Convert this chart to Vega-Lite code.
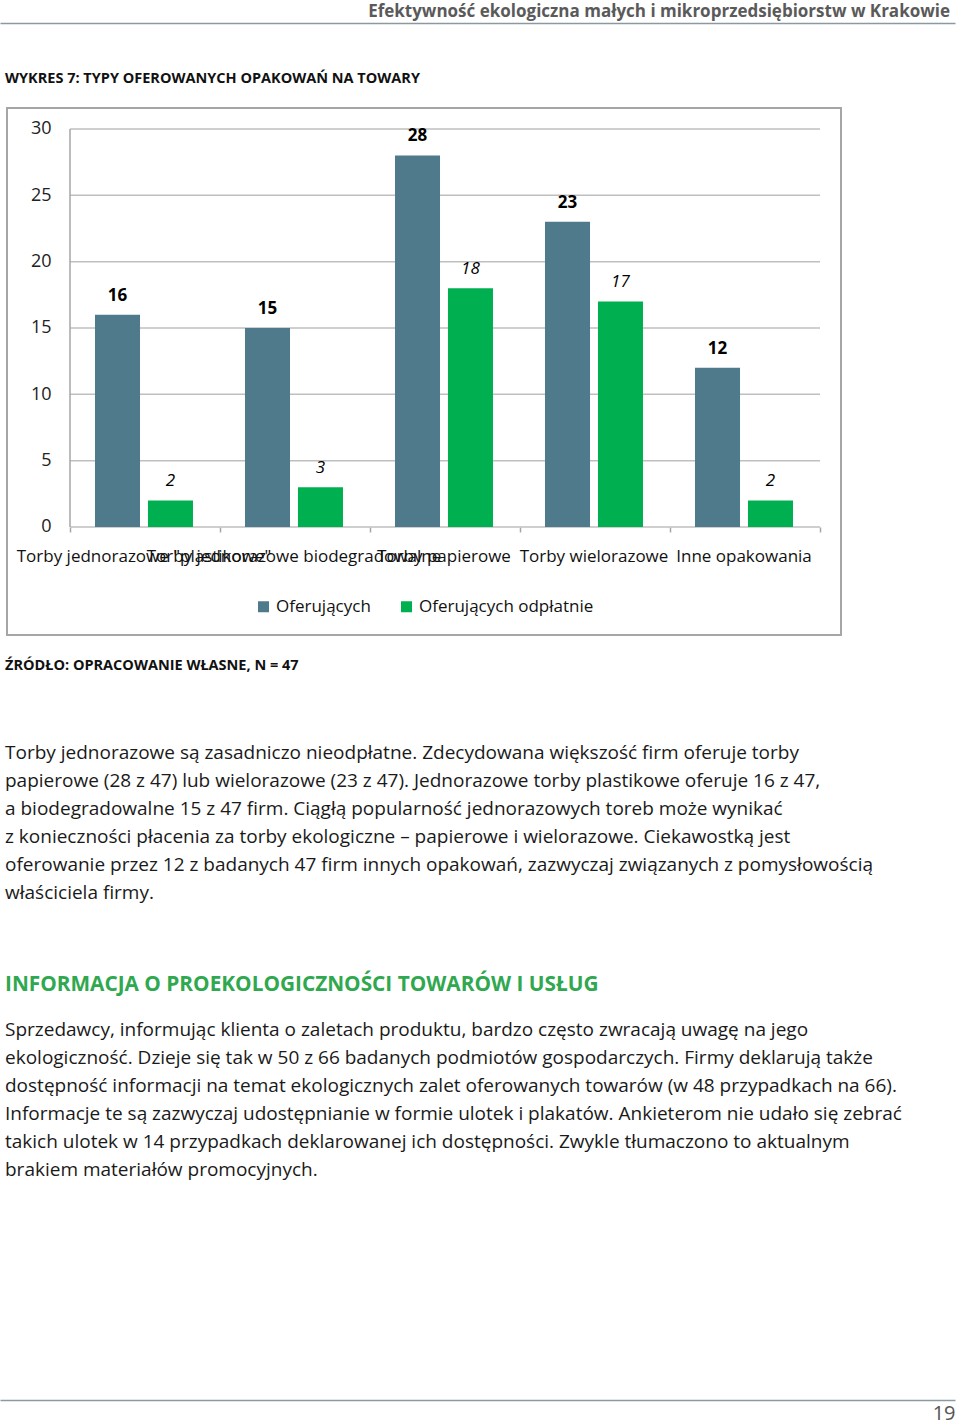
{
  "$schema": "https://vega.github.io/schema/vega-lite/v6.json",
  "background": "white",
  "padding": {"left": 4, "top": 0, "right": 6, "bottom": 4},
  "spacing": 85,
  "bounds": "flush",
  "config": {
    "view": {"stroke": null},
    "font": "Open Sans",
    "text": {"font": "Open Sans"},
    "axis": {"labelFont": "Open Sans", "titleFont": "Open Sans"},
    "legend": {"labelFont": "Open Sans"},
    "title": {"font": "Open Sans"}
  },
  "datasets": {
    "slupki": [
      {"kategoria": "Torby jednorazowe \"plastikowe\"", "seria": "Oferujących", "liczba": 16},
      {"kategoria": "Torby jednorazowe \"plastikowe\"", "seria": "Oferujących odpłatnie", "liczba": 2},
      {"kategoria": "Torby jednorazowe biodegradowalne", "seria": "Oferujących", "liczba": 15},
      {"kategoria": "Torby jednorazowe biodegradowalne", "seria": "Oferujących odpłatnie", "liczba": 3},
      {"kategoria": "Torby papierowe", "seria": "Oferujących", "liczba": 28},
      {"kategoria": "Torby papierowe", "seria": "Oferujących odpłatnie", "liczba": 18},
      {"kategoria": "Torby wielorazowe", "seria": "Oferujących", "liczba": 23},
      {"kategoria": "Torby wielorazowe", "seria": "Oferujących odpłatnie", "liczba": 17},
      {"kategoria": "Inne opakowania", "seria": "Oferujących", "liczba": 12},
      {"kategoria": "Inne opakowania", "seria": "Oferujących odpłatnie", "liczba": 2}
    ],
    "siatka": [
      {"wartosc": 0}, {"wartosc": 5}, {"wartosc": 10}, {"wartosc": 15},
      {"wartosc": 20}, {"wartosc": 25}, {"wartosc": 30}
    ],
    "naglowek": [
      {"side": "right", "tekst": "Efektywność ekologiczna małych i mikroprzedsiębiorstw w Krakowie"}
    ],
    "akapit1": [
      {"side": "left", "linie": [
        "Torby jednorazowe są zasadniczo nieodpłatne. Zdecydowana większość firm oferuje torby",
        "papierowe (28 z 47) lub wielorazowe (23 z 47). Jednorazowe torby plastikowe oferuje 16 z 47,",
        "a biodegradowalne 15 z 47 firm. Ciągłą popularność jednorazowych toreb może wynikać",
        "z konieczności płacenia za torby ekologiczne – papierowe i wielorazowe. Ciekawostką jest",
        "oferowanie przez 12 z badanych 47 firm innych opakowań, zazwyczaj związanych z pomysłowością",
        "właściciela firmy."
      ]}
    ],
    "akapit2": [
      {"side": "left", "linie": [
        "Sprzedawcy, informując klienta o zaletach produktu, bardzo często zwracają uwagę na jego",
        "ekologiczność. Dzieje się tak w 50 z 66 badanych podmiotów gospodarczych. Firmy deklarują także",
        "dostępność informacji na temat ekologicznych zalet oferowanych towarów (w 48 przypadkach na 66).",
        "Informacje te są zazwyczaj udostępnianie w formie ulotek i plakatów. Ankieterom nie udało się zebrać",
        "takich ulotek w 14 przypadkach deklarowanej ich dostępności. Zwykle tłumaczono to aktualnym",
        "brakiem materiałów promocyjnych."
      ]}
    ]
  },
  "vconcat": [
    {
      "width": 948,
      "height": 23,
      "data": {"name": "naglowek"},
      "mark": {"type": "text", "align": "right", "baseline": "middle", "dx": -5, "fontSize": 17, "fontWeight": "bold", "color": "#5a5a5a"},
      "encoding": {
        "x": {"field": "side", "type": "nominal", "scale": {"type": "point", "padding": 0, "domain": ["left", "right"], "range": [-7, 948]},
              "axis": {"orient": "bottom", "domain": true, "domainColor": "#8a9aa2", "domainWidth": 1.5, "labels": false, "ticks": false, "grid": false, "title": null}},
        "text": {"field": "tekst", "type": "nominal"}
      }
    },
    {
      "width": 834,
      "height": 527,
      "view": {"stroke": "#a6a6a6", "strokeWidth": 2},
      "title": {"text": "WYKRES 7: TYPY OFEROWANYCH OPAKOWAŃ NA TOWARY", "anchor": "start", "frame": "group", "baseline": "bottom", "offset": 8, "dx": -2, "fontSize": 14.5, "fontWeight": "bold", "color": "#111111"},
      "resolve": {"scale": {"x": "independent"}, "axis": {"x": "independent"}},
      "layer": [
        {
          "data": {"name": "siatka"},
          "mark": {"type": "rule", "color": "#bfbfbf", "strokeWidth": 1.5},
          "encoding": {
            "y": {"field": "wartosc", "type": "quantitative",
                  "scale": {"domain": [-8.14, 31.58], "nice": false, "zero": false},
                  "axis": {"orient": "left", "offset": -44, "values": [0, 5, 10, 15, 20, 25, 30], "domain": false, "ticks": false, "tickSize": 0, "labelPadding": 0, "labelFontSize": 18, "labelColor": "#222222", "grid": false, "title": null}},
            "x": {"datum": 0, "type": "quantitative", "scale": {"domain": [-0.42, 5.14], "nice": false, "zero": false},
                  "axis": {"orient": "bottom", "offset": -108, "values": [0, 1, 2, 3, 4, 5], "domain": false, "labels": false, "ticks": true, "tickSize": 5, "tickColor": "#a6a6a6", "tickWidth": 1.5, "grid": false, "title": null}},
            "x2": {"datum": 5}
          }
        },
        {
          "data": {"name": "siatka"},
          "transform": [{"filter": "datum.wartosc == 0"}],
          "mark": {"type": "rule", "color": "#a6a6a6", "strokeWidth": 1.5},
          "encoding": {
            "y": {"field": "wartosc", "type": "quantitative",
                  "scale": {"domain": [-8.14, 31.58], "nice": false, "zero": false},
                  "axis": {"orient": "left", "offset": -44, "values": [0, 5, 10, 15, 20, 25, 30], "domain": false, "ticks": false, "tickSize": 0, "labelPadding": 0, "labelFontSize": 18, "labelColor": "#222222", "grid": false, "title": null}},
            "y2": {"datum": 30},
            "x": {"datum": 0, "type": "quantitative", "scale": {"domain": [-0.42, 5.14], "nice": false, "zero": false}, "axis": null}
          }
        },
        {
          "data": {"name": "slupki"},
          "encoding": {
            "x": {"field": "kategoria", "type": "nominal", "sort": null,
                  "scale": {"type": "band", "paddingInner": 0.3467, "paddingOuter": 0.4533, "align": 0.647},
                  "axis": {"orient": "bottom", "offset": -108, "domain": false, "ticks": false, "tickSize": 0, "labelPadding": 21, "labelFontSize": 17, "labelColor": "#111111", "labelAngle": 0, "labelLimit": 0, "labelOverlap": false, "grid": false, "title": null}},
            "xOffset": {"field": "seria", "type": "nominal", "sort": null, "scale": {"paddingInner": 0.15, "paddingOuter": 0}},
            "y": {"field": "liczba", "type": "quantitative",
                  "scale": {"domain": [-8.14, 31.58], "nice": false, "zero": false},
                  "axis": {"orient": "left", "offset": -44, "values": [0, 5, 10, 15, 20, 25, 30], "domain": false, "ticks": false, "tickSize": 0, "labelPadding": 0, "labelFontSize": 18, "labelColor": "#222222", "grid": false, "title": null}}
          },
          "layer": [
            {
              "mark": {"type": "bar"},
              "encoding": {
                "y2": {"datum": 0},
                "color": {"field": "seria", "type": "nominal", "sort": null,
                          "scale": {"domain": ["Oferujących", "Oferujących odpłatnie"], "range": ["#4f7a8b", "#00b050"]},
                          "legend": {"orient": "none", "legendX": 248, "legendY": 598, "direction": "horizontal", "title": null, "symbolType": "square", "symbolSize": 121, "symbolStrokeWidth": 0, "labelFontSize": 17, "labelColor": "#111111", "labelOffset": 4, "labelLimit": 0, "columnPadding": 27, "padding": 0}}
              }
            },
            {
              "transform": [{"filter": "datum.seria === 'Oferujących'"}],
              "mark": {"type": "text", "baseline": "bottom", "dy": -10, "fontSize": 17, "fontWeight": "bold", "color": "#000000"},
              "encoding": {"text": {"field": "liczba", "type": "quantitative"}}
            },
            {
              "transform": [{"filter": "datum.seria === 'Oferujących odpłatnie'"}],
              "mark": {"type": "text", "baseline": "bottom", "dy": -10, "fontSize": 17, "fontStyle": "italic", "color": "#000000"},
              "encoding": {"text": {"field": "liczba", "type": "quantitative"}}
            }
          ]
        }
      ]
    },
    {
      "spacing": 224,
      "bounds": "flush",
      "vconcat": [
        {
          "width": 948,
          "height": 66,
          "title": {"text": "ŹRÓDŁO: OPRACOWANIE WŁASNE, N = 47", "anchor": "start", "frame": "group", "baseline": "bottom", "offset": 33, "dx": -2, "fontSize": 14.5, "fontWeight": "bold", "color": "#111111"},
          "data": {"name": "akapit1"},
          "mark": {"type": "text", "align": "left", "baseline": "middle", "lineHeight": 28, "dx": 5, "fontSize": 19, "color": "#1a1a1a"},
          "encoding": {
            "x": {"field": "side", "type": "nominal", "scale": {"type": "point", "padding": 0, "domain": ["left", "right"], "range": [-7, 948]}, "axis": null},
            "text": {"field": "linie", "type": "nominal"}
          }
        },
        {
          "width": 948,
          "height": 40,
          "title": {"text": "INFORMACJA O PROEKOLOGICZNOŚCI TOWARÓW I USŁUG", "anchor": "start", "frame": "group", "baseline": "bottom", "offset": -6, "dx": -2, "fontSize": 20.8, "fontWeight": "bold", "color": "#2fa84f"},
          "data": {"name": "akapit2"},
          "mark": {"type": "text", "align": "left", "baseline": "middle", "lineHeight": 28, "dx": 5, "fontSize": 19, "color": "#1a1a1a"},
          "encoding": {
            "x": {"field": "side", "type": "nominal", "scale": {"type": "point", "padding": 0, "domain": ["left", "right"], "range": [-7, 948]},
                  "axis": {"orient": "bottom", "offset": 350, "domain": true, "domainColor": "#8a9aa2", "domainWidth": 1.5, "labels": false, "ticks": false, "grid": false, "title": "19", "titleAnchor": "end", "titleFontSize": 20, "titleFontWeight": "normal", "titleColor": "#555555", "titlePadding": 3}},
            "text": {"field": "linie", "type": "nominal"}
          }
        }
      ]
    }
  ]
}
